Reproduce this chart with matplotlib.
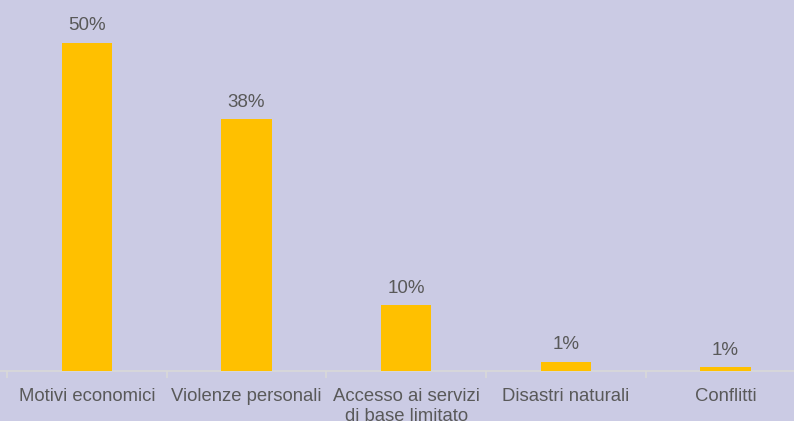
import matplotlib.pyplot as plt
import numpy as np

categories = ["Motivi economici", "Violenze personali", "Accesso ai servizi\ndi base limitato",
              "Disastri naturali", "Conflitti"]
values = [50, 38.4, 10, 1.4, 0.6]

plt.rcParams['font.family'] = ['Liberation Sans', 'DejaVu Sans']

bg = "#CBCBE4"
txt = "#595959"

fig = plt.figure(figsize=(7.94, 4.21), dpi=100, facecolor=bg)
ax = fig.add_axes([0, 50 / 421, 1, 371 / 421])
ax.set_facecolor(bg)

x = np.arange(len(categories))
ax.bar(x, values, width=0.315, color="#FFC000", zorder=3)

# percentage labels above each bar
for xi, v in zip(x, values):
    ax.annotate(f"{v:.0f}%", (xi, v), xytext=(0, 6), textcoords="offset points",
                ha="center", va="bottom", fontsize=13.5, color=txt)

for s in ["top", "right", "left"]:
    ax.spines[s].set_visible(False)
ax.spines["bottom"].set_color("#D9D9D9")
ax.spines["bottom"].set_linewidth(1.2)

ax.set_yticks([])
ax.set_xticks(x)
ax.set_xticklabels(categories, fontsize=13.3, color=txt, linespacing=1.25)
ax.tick_params(axis="x", which="major", length=0, pad=12)
ax.set_xticks(np.arange(-0.5, len(categories) + 0.5, 1), minor=True)
ax.tick_params(axis="x", which="minor", length=5, color="#D9D9D9", width=1.2)

# limits last, set_xticks would widen them otherwise
ax.set_xlim(-0.544, 4.43)
ax.set_ylim(0, 56.5)

fig.savefig("out.png", dpi=100, facecolor=bg)
